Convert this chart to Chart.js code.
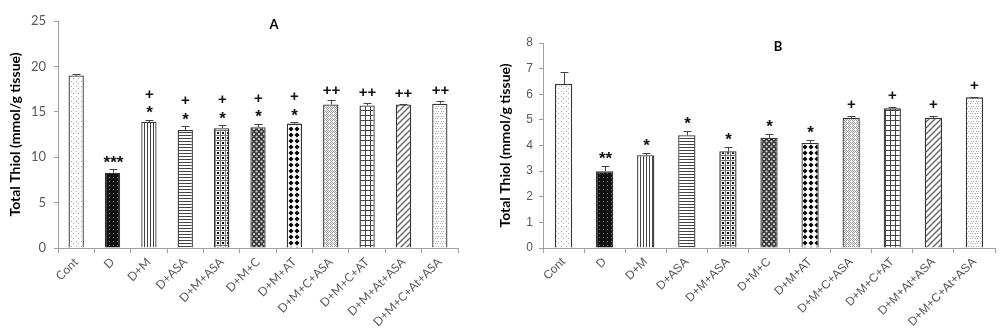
<!DOCTYPE html>
<html>
<head>
<meta charset="utf-8">
<script src="https://cdn.jsdelivr.net/npm/chart.js@4.4.1/dist/chart.umd.min.js"></script>
<style>
    html, body { margin: 0; padding: 0; background: #fff; }
    #wrapA { position: absolute; left: 0; top: 0; width: 490px; height: 332px; }
    #wrapB { position: absolute; left: 490px; top: 0; width: 510px; height: 332px; }
</style>
</head>
<body>
<div id="wrapA"><canvas id="chartA"></canvas></div>
<div id="wrapB"><canvas id="chartB"></canvas></div>
<script>
// groups, same order in both panels
const groups = ['Cont', 'D', 'D+M', 'D+ASA', 'D+M+ASA', 'D+M+C', 'D+M+AT', 'D+M+C+ASA', 'D+M+C+AT', 'D+M+At+ASA', 'D+M+C+At+ASA'];

// panel A
const thiolA = [19.0, 8.3, 13.9, 13.0, 13.2, 13.3, 13.7, 15.8, 15.7, 15.8, 15.9];
const errA = [0.15, 0.4, 0.25, 0.4, 0.35, 0.4, 0.15, 0.45, 0.3, 0.1, 0.3];
const starA = ['', '***', '*', '*', '*', '*', '*', '', '', '', ''];
const plusA = ['', '', '+', '+', '+', '+', '+', '++', '++', '++', '++'];
const ticksA = [0, 5, 10, 15, 20, 25];

// panel B
const thiolB = [6.4, 3.0, 3.62, 4.4, 3.78, 4.3, 4.1, 5.08, 5.45, 5.08, 5.88];
const errB = [0.45, 0.2, 0.08, 0.17, 0.15, 0.14, 0.12, 0.06, 0.06, 0.06, 0.03];
const starB = ['', '**', '*', '*', '*', '*', '*', '', '', '', ''];
const plusB = ['', '', '', '', '', '', '', '+', '+', '+', '+'];
const ticksB = [0, 1, 2, 3, 4, 5, 6, 7, 8];

const yTitle = 'Total Thiol (mmol/g tissue)';

function makePattern(w, h, draw) {
    const c = document.createElement('canvas');
    c.width = w;
    c.height = h;
    const g = c.getContext('2d');
    draw(g, w, h);
    return g.createPattern(c, 'repeat');
}

function dot(g, x, y, r, col) {
    g.fillStyle = col;
    g.beginPath();
    g.arc(x, y, r, 0, Math.PI * 2);
    g.fill();
}

// one fill per group, like the excel pattern fills
function buildPatterns() {
    return [
        // Cont - sparse light dots
        makePattern(5, 5, (g) => {
            g.fillStyle = '#fff'; g.fillRect(0, 0, 5, 5);
            g.fillStyle = '#aaa'; g.fillRect(1, 1, 1, 1); g.fillRect(3, 3, 1, 1);
        }),
        // D - black with grey dots
        makePattern(4, 4, (g) => {
            g.fillStyle = '#111'; g.fillRect(0, 0, 4, 4);
            g.fillStyle = '#777'; g.fillRect(1, 1, 1, 1);
        }),
        // D+M - vertical lines
        makePattern(3, 3, (g) => {
            g.fillStyle = '#fff'; g.fillRect(0, 0, 3, 3);
            g.fillStyle = '#444'; g.fillRect(0, 0, 1, 3);
        }),
        // D+ASA - horizontal lines
        makePattern(3, 3, (g) => {
            g.fillStyle = '#fff'; g.fillRect(0, 0, 3, 3);
            g.fillStyle = '#444'; g.fillRect(0, 0, 3, 1);
        }),
        // D+M+ASA - grid with black squares
        makePattern(5, 5, (g) => {
            g.fillStyle = '#fff'; g.fillRect(0, 0, 5, 5);
            g.fillStyle = '#777'; g.fillRect(0, 0, 5, 1); g.fillRect(0, 0, 1, 5);
            g.fillStyle = '#000'; g.fillRect(2, 2, 2, 2);
        }),
        // D+M+C - dark with white spheres
        makePattern(5, 5, (g) => {
            g.fillStyle = '#3a3a3a'; g.fillRect(0, 0, 5, 5);
            dot(g, 1.5, 1.5, 1.1, '#ddd');
            dot(g, 4, 4, 1.1, '#ddd');
        }),
        // D+M+AT - black diamonds
        makePattern(6, 6, (g) => {
            g.fillStyle = '#fff'; g.fillRect(0, 0, 6, 6);
            g.fillStyle = '#000';
            g.beginPath(); g.moveTo(3, 0.5); g.lineTo(5.5, 3); g.lineTo(3, 5.5); g.lineTo(0.5, 3); g.closePath(); g.fill();
        }),
        // D+M+C+ASA - light trellis
        makePattern(4, 4, (g) => {
            g.fillStyle = '#fff'; g.fillRect(0, 0, 4, 4);
            g.fillStyle = '#999';
            g.fillRect(0, 0, 1, 1); g.fillRect(2, 0, 1, 1);
            g.fillRect(3, 1, 1, 1); g.fillRect(0, 2, 1, 1);
            g.fillRect(2, 2, 1, 1); g.fillRect(1, 3, 1, 1); g.fillRect(3, 3, 1, 1);
        }),
        // D+M+C+AT - large grid
        makePattern(5, 5, (g) => {
            g.fillStyle = '#fff'; g.fillRect(0, 0, 5, 5);
            g.fillStyle = '#444'; g.fillRect(0, 0, 5, 1); g.fillRect(0, 0, 1, 5);
        }),
        // D+M+At+ASA - wide upward diagonal
        makePattern(6, 6, (g) => {
            g.fillStyle = '#fff'; g.fillRect(0, 0, 6, 6);
            g.strokeStyle = '#666'; g.lineWidth = 1.4;
            g.beginPath(); g.moveTo(-1, 7); g.lineTo(7, -1); g.stroke();
            g.beginPath(); g.moveTo(-1, 1); g.lineTo(1, -1); g.stroke();
            g.beginPath(); g.moveTo(5, 7); g.lineTo(7, 5); g.stroke();
        }),
        // D+M+C+At+ASA - light rings
        makePattern(5, 5, (g) => {
            g.fillStyle = '#fff'; g.fillRect(0, 0, 5, 5);
            g.fillStyle = '#aaa';
            g.fillRect(1, 1, 1, 1); g.fillRect(3, 1, 1, 1);
            g.fillRect(2, 3, 1, 1); g.fillRect(0, 3, 1, 1);
        })
    ];
}

// error bars (upper whisker only) + significance signs
const errorPlugin = {
    id: 'errorMarks',
    afterDatasetsDraw(chart, args, opts) {
        const ctx = chart.ctx;
        const meta = chart.getDatasetMeta(0);
        const ys = chart.scales.y;
        const vals = chart.data.datasets[0].data;
        ctx.save();
        meta.data.forEach((bar, i) => {
            const top = ys.getPixelForValue(vals[i] + opts.err[i]);
            ctx.strokeStyle = '#444';
            ctx.lineWidth = 1;
            const x = Math.round(bar.x) + 0.5;
            ctx.beginPath();
            ctx.moveTo(x, bar.y);
            ctx.lineTo(x, Math.round(top) + 0.5);
            ctx.moveTo(x - 4, Math.round(top) + 0.5);
            ctx.lineTo(x + 4, Math.round(top) + 0.5);
            ctx.stroke();

            ctx.fillStyle = '#111';
            ctx.textAlign = 'center';
            ctx.textBaseline = 'middle';
            let y = top - opts.gap;
            [opts.star[i], opts.plus[i]].forEach((s) => {
                if (!s) return;
                const isStar = s.charAt(0) === '*';
                ctx.font = 'bold ' + (isStar ? opts.starSize : opts.plusSize) + 'px "Liberation Sans", Arial';
                ctx.fillText(s, x, y + (isStar ? 4 : 0));
                y -= opts.step;
            });
        });
        // panel letter
        const ca = chart.chartArea;
        ctx.font = 'bold 13px Lato, "Open Sans", sans-serif';
        ctx.fillStyle = '#000';
        ctx.textBaseline = 'top';
        ctx.fillText(opts.letter, ca.left + (ca.right - ca.left) * opts.letterPos, ca.top - 3);
        ctx.restore();
    }
};

function makeChart(id, values, err, star, plus, ticks, cfg) {
    const ctx = document.getElementById(id).getContext('2d');
    return new Chart(ctx, {
        type: 'bar',
        data: {
            labels: groups,
            datasets: [{
                data: values,
                backgroundColor: buildPatterns(),
                borderColor: '#333',
                borderWidth: 1.3,
                barPercentage: 0.42,
                categoryPercentage: 1
            }]
        },
        options: {
            responsive: true,
            maintainAspectRatio: false,
            animation: false,
            layout: { padding: { left: 0, right: cfg.padRight, top: cfg.padTop, bottom: 0 } },
            plugins: {
                legend: { display: false },
                tooltip: { enabled: false },
                errorMarks: {
                    err: err, star: star, plus: plus,
                    gap: cfg.gap, step: 15, starSize: 17, plusSize: 15,
                    letter: cfg.letter, letterPos: cfg.letterPos
                }
            },
            scales: {
                x: {
                    afterFit: (s) => { s.height = 84; },
                    grid: { display: true, drawOnChartArea: false, offset: true, tickLength: 5, color: '#a0a0a0' },
                    border: { color: '#a0a0a0' },
                    ticks: {
                        autoSkip: false,
                        minRotation: 45,
                        maxRotation: 45,
                        padding: 2,
                        color: '#595959',
                        font: { family: cfg.tickFont, size: 12 }
                    }
                },
                y: {
                    min: 0,
                    max: ticks[ticks.length - 1],
                    afterFit: (s) => { s.width = cfg.yWidth; },
                    afterBuildTicks: (s) => { s.ticks = ticks.map(v => ({value: v})); },
                    grid: { display: true, drawOnChartArea: false, tickLength: 4, color: '#a0a0a0' },
                    border: { color: '#a0a0a0' },
                    ticks: {
                        padding: cfg.yPad,
                        color: '#595959',
                        font: { family: cfg.tickFont, size: cfg.yTickSize }
                    },
                    title: {
                        display: true,
                        text: yTitle,
                        color: '#000',
                        padding: { top: 7, bottom: 4 },
                        font: { family: 'Lato, "Open Sans", sans-serif', size: 14, weight: 'bold' }
                    }
                }
            }
        },
        plugins: [errorPlugin]
    });
}

makeChart('chartA', thiolA, errA, starA, plusA, ticksA, {
    padRight: 32, padTop: 21, yWidth: 58, gap: 10, yPad: 8, yTickSize: 13,
    tickFont: 'Lato, "Open Sans", sans-serif', letter: 'A', letterPos: 0.54
});
makeChart('chartB', thiolB, errB, starB, plusB, ticksB, {
    padRight: 5, padTop: 43, yWidth: 53, gap: 11, yPad: 6, yTickSize: 12,
    tickFont: '"Liberation Sans", Arial, sans-serif', letter: 'B', letterPos: 0.52
});
</script>
</body>
</html>
